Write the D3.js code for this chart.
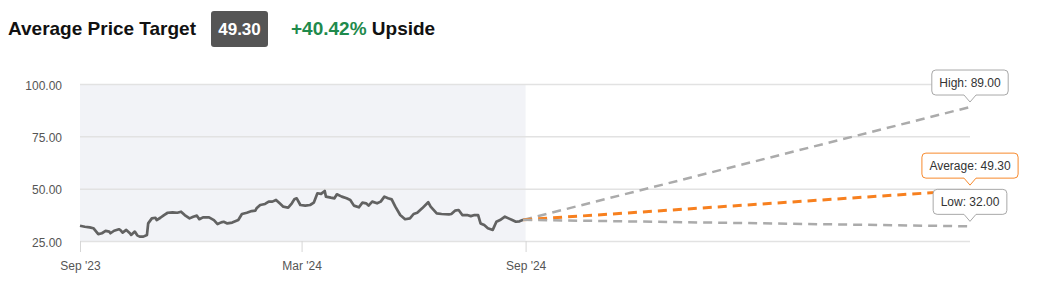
<!DOCTYPE html>
<html>
<head>
<meta charset="utf-8">
<script src="https://cdn.jsdelivr.net/npm/d3@7"></script>
<style>
    body { margin: 0; background: #fff; }
    svg { display: block; font-family: "Liberation Sans", Arial, sans-serif; }
</style>
</head>
<body>
<script>
var width = 1038;
var height = 288;

// price history: days since 2023-09-01 and closing price
var startDate = new Date(2023, 8, 1);
var priceDays = [
    0, 4, 8, 11, 15, 18, 21, 24, 25, 28,
    32, 33, 35, 38, 41, 42, 45, 47, 49, 52,
    55, 56, 59, 62, 63, 66, 69, 72, 76, 80,
    83, 86, 90, 93, 96, 98, 101, 106, 110, 113,
    116, 118, 121, 125, 130, 133, 137, 141, 144, 145,
    148, 152, 155, 158, 161, 164, 167, 171, 174, 176,
    178, 181, 185, 189, 192, 195, 198, 201, 202, 206,
    209, 211, 215, 219, 222, 225, 229, 232, 235, 237,
    240, 244, 247, 250, 253, 256, 259, 263, 267, 271,
    274, 277, 281, 286, 288, 293, 297, 303, 305, 308,
    311, 314, 318, 321, 324, 327, 329, 332, 335, 339,
    342, 345, 349, 352, 355, 358, 361, 364
];
var priceValues = [
    32.3, 31.8, 31.5, 31.1, 28.3, 28.7, 29.8, 29.5, 28.7, 29.9,
    30.6, 30.3, 29.0, 30.3, 28.7, 27.9, 29.5, 27.7, 27.1, 27.1,
    27.9, 33.4, 35.8, 36.1, 35.0, 36.1, 37.4, 38.5, 38.7, 38.5,
    39.0, 37.4, 35.8, 36.6, 37.1, 35.4, 36.3, 36.3, 35.0, 33.1,
    33.9, 34.2, 33.4, 33.8, 35.0, 37.9, 38.5, 39.3, 39.5, 40.6,
    42.2, 42.7, 43.8, 43.8, 44.6, 43.0, 41.4, 40.9, 43.0, 44.9,
    45.4, 42.2, 41.9, 42.2, 43.3, 47.8, 47.5, 48.9, 46.2, 45.7,
    45.4, 47.3, 46.2, 45.4, 44.6, 41.9, 41.1, 43.3, 43.0, 41.9,
    43.8, 43.0, 43.8, 46.2, 45.4, 44.9, 41.4, 37.4, 35.4, 35.8,
    37.9, 38.5, 40.6, 43.5, 41.4, 38.2, 37.9, 37.7, 37.9, 39.5,
    39.8, 37.4, 37.4, 36.9, 37.4, 37.4, 33.4, 32.6, 31.1, 30.3,
    34.2, 35.0, 36.6, 35.8, 35.0, 34.2, 34.4, 35.1
];

// analyst targets
var targetNames = ["High", "Average", "Low"];
var targetValues = [89.00, 49.30, 32.00];
var targetDate = new Date(2025, 8, 1);
var historyEnd = new Date(2024, 8, 1);
var averageTarget = 49.30;
var upside = "+40.42%";

var yTicks = [25, 50, 75, 100];
var xTicks = [new Date(2023, 8, 1), new Date(2024, 2, 1), new Date(2024, 8, 1)];

var plotLeft = 80, plotRight = 970, plotTop = 84, plotBottom = 241;

var svg = d3.select("body")
    .append("svg")
    .attr("width", width)
    .attr("height", height);

var x = d3.scaleTime().domain([startDate, targetDate]).range([plotLeft, plotRight]);
var y = d3.scaleLinear().domain([25, 100]).range([plotBottom, plotTop]);

var prices = priceDays.map(function(d, i) {
    return { date: d3.timeDay.offset(startDate, d), value: priceValues[i] };
});
var last = prices[prices.length - 1];

// header
svg.append("text")
    .attr("x", 8)
    .attr("y", 35)
    .attr("font-size", "19px")
    .attr("font-weight", "bold")
    .attr("fill", "#111")
    .text("Average Price Target");

svg.append("rect")
    .attr("x", 211)
    .attr("y", 11)
    .attr("width", 57)
    .attr("height", 36)
    .attr("rx", 3)
    .attr("fill", "#555");

svg.append("text")
    .attr("x", 239.5)
    .attr("y", 35)
    .attr("text-anchor", "middle")
    .attr("font-size", "17px")
    .attr("font-weight", "bold")
    .attr("fill", "#fff")
    .text(averageTarget.toFixed(2));

var up = svg.append("text")
    .attr("x", 291)
    .attr("y", 35)
    .attr("font-size", "19px")
    .attr("font-weight", "bold");
up.append("tspan").attr("fill", "#1f8a4c").text(upside);
up.append("tspan").attr("fill", "#111").text(" Upside");

// shaded history area
svg.append("rect")
    .attr("x", x(startDate))
    .attr("y", y(100))
    .attr("width", x(historyEnd) - x(startDate))
    .attr("height", y(25) - y(100))
    .attr("fill", "#f2f3f7");

// y axis + grid
var yAxis = svg.append("g")
    .attr("transform", "translate(" + plotLeft + ",0)")
    .call(d3.axisLeft(y)
        .tickValues(yTicks)
        .tickSize(-(plotRight - plotLeft))
        .tickPadding(18)
        .tickFormat(d3.format(".2f")));
yAxis.select(".domain").remove();
yAxis.selectAll(".tick line").attr("stroke", "#e2e2e2").attr("stroke-width", 1.5);
yAxis.selectAll(".tick text")
    .attr("font-family", "\"Liberation Sans\", Arial, sans-serif")
    .attr("font-size", "12px")
    .attr("dy", "0.42em")
    .attr("fill", "#555");

// x axis
var xAxis = svg.append("g")
    .attr("transform", "translate(0," + plotBottom + ")")
    .call(d3.axisBottom(x)
        .tickValues(xTicks)
        .tickSize(11)
        .tickPadding(9)
        .tickFormat(d3.timeFormat("%b '%y")));
xAxis.select(".domain").remove();
xAxis.selectAll(".tick line").attr("stroke", "#d6d6d6");
xAxis.selectAll(".tick text")
    .attr("font-family", "\"Liberation Sans\", Arial, sans-serif")
    .attr("font-size", "12px")
    .attr("fill", "#555");

// price history line
var line = d3.line()
    .x(function(d) { return x(d.date); })
    .y(function(d) { return y(d.value); });

svg.append("path")
    .datum(prices)
    .attr("fill", "none")
    .attr("stroke", "#626262")
    .attr("stroke-width", 2.7)
    .attr("stroke-linejoin", "round")
    .attr("d", line);

// forecast lines
var targets = targetNames.map(function(n, i) {
    return { name: n, value: targetValues[i], color: n == "Average" ? "#f7801f" : "#ababab" };
});

svg.selectAll(".target")
    .data(targets)
    .enter()
    .append("path")
    .attr("class", "target")
    .attr("fill", "none")
    .attr("stroke", function(d) { return d.color; })
    .attr("stroke-width", function(d) { return d.name == "Average" ? 3 : 2.5; })
    .attr("stroke-dasharray", "9,6")
    .attr("d", function(d) {
        return line([last, { date: targetDate, value: d.value }]);
    });

// callouts
targets.forEach(function(d) {
    var px = x(targetDate);
    var py = y(d.value);
    var g = svg.append("g");
    var t = g.append("text")
        .attr("x", px)
        .attr("y", py - 20)
        .attr("text-anchor", "middle")
        .attr("font-size", "12px")
        .attr("fill", "#333")
        .text(d.name + ": " + d.value.toFixed(2));
    var w = t.node().getComputedTextLength() + 15;
    var b = py - 12, h = 25, r = 4;
    var l = px - w / 2, rr = px + w / 2, tp = b - h;
    var p = d3.path();
    p.moveTo(l + r, tp);
    p.lineTo(rr - r, tp);
    p.arcTo(rr, tp, rr, tp + r, r);
    p.lineTo(rr, b - r);
    p.arcTo(rr, b, rr - r, b, r);
    p.lineTo(px + 6, b);
    p.lineTo(px, b + 7);
    p.lineTo(px - 6, b);
    p.lineTo(l + r, b);
    p.arcTo(l, b, l, b - r, r);
    p.lineTo(l, tp + r);
    p.arcTo(l, tp, l + r, tp, r);
    p.closePath();
    g.insert("path", "text")
        .attr("d", p.toString())
        .attr("fill", "#fff")
        .attr("stroke", d.name == "Average" ? "#f7892c" : "#a8a8a8")
        .attr("stroke-width", 1);
});
</script>
</body>
</html>
